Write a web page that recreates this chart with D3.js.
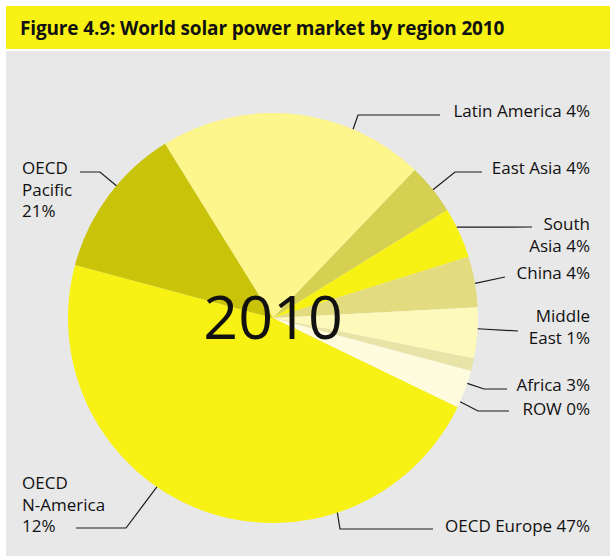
<!DOCTYPE html>
<html>
<head>
<meta charset="utf-8">
<script src="https://cdn.jsdelivr.net/npm/d3@7"></script>
<style>
  html, body { margin: 0; padding: 0; background: #ffffff; }
  svg { display: block; }
</style>
</head>
<body>
<svg id="chart" width="610" height="556"></svg>
<script>
// World solar power market by region, 2010 (share of installations, %)
const regions = ["OECD Pacific", "Latin America", "East Asia", "South Asia", "China",
                 "Middle East", "Africa", "ROW", "OECD Europe", "OECD N-America"];
const shares  = [21, 4, 4, 4, 4, 1, 3, 0, 47, 12];
const sliceColors = ["#fcf68c", "#d5cf52", "#f7f214", "#e2db80", "#fdf9bb",
                     "#e8e3a6", "#fefbdf", "#fefbdf", "#f7f214", "#c9c30a"];
const centerLabel = "2010";
const title = "Figure 4.9: World solar power market by region 2010";

// Label layout: angle (deg, clockwise from 12 o'clock) where the leader touches the rim,
// elbow and end of the leader, text anchor point and line breaks.
const labelLayout = {
  "Latin America":  { a: 23.0,  elbow: [358, 115], end: [440, 115], text: [590, 110], lines: ["Latin America 4%"], anchor: "end" },
  "East Asia":      { a: 51.3,  elbow: [455, 172], end: [482, 172], text: [590, 167], lines: ["East Asia 4%"], anchor: "end" },
  "South Asia":     { a: 63.7,  elbow: null,       end: [532, 227], text: [590, 223], lines: ["South", "Asia 4%"], anchor: "end" },
  "China":          { a: 80.3,  elbow: null,       end: [505, 277], text: [590, 272], lines: ["China 4%"], anchor: "end" },
  "Middle East":    { a: 93.0,  elbow: null,       end: [518, 331], text: [590, 315], lines: ["Middle", "East 1%"], anchor: "end" },
  "Africa":         { a: 108.6, elbow: [484, 389], end: [507, 389], text: [590, 384], lines: ["Africa 3%"], anchor: "end" },
  "ROW":            { a: 114.1, elbow: [478, 411], end: [509, 411], text: [590, 408], lines: ["ROW 0%"], anchor: "end" },
  "OECD Europe":    { a: 161.7, elbow: [340, 529], end: [433, 529], text: [445, 525], lines: ["OECD Europe 47%"], anchor: "start" },
  "OECD N-America": { a: 214.5, elbow: [126, 528], end: [76, 528],  text: [22, 482], lines: ["OECD", "N-America", "12%"], anchor: "start" },
  "OECD Pacific":   { a: 310.2, elbow: [100, 172], end: [80, 172],  text: [22, 167], lines: ["OECD", "Pacific", "21%"], anchor: "start" }
};

const W = 610, H = 556;
const cx = 273, cy = 318, R = 205;
const svg = d3.select("#chart");

// Title band and grey panel
svg.append("rect").attr("x", 6).attr("y", 6).attr("width", W - 6).attr("height", 43).attr("fill", "#f7f214");
svg.append("rect").attr("x", 6).attr("y", 51).attr("width", W - 6).attr("height", H - 51).attr("fill", "#e8e8e8");
svg.append("text")
  .attr("x", 20).attr("y", 35)
  .attr("font-family", "'Open Sans', sans-serif")
  .attr("font-weight", 700)
  .attr("font-size", 19)
  .attr("letter-spacing", -0.15)
  .attr("fill", "#111")
  .text(title);

// Pie
const toRad = d => d * Math.PI / 180;
const start = toRad(-31.8);
const pie = d3.pie().sort(null).value(d => d.v).startAngle(start).endAngle(start + 2 * Math.PI);
const arc = d3.arc().innerRadius(0).outerRadius(R);
const data = regions.map((r, i) => ({ name: r, v: shares[i], color: sliceColors[i] }));

const g = svg.append("g").attr("transform", `translate(${cx},${cy})`);
g.selectAll("path")
  .data(pie(data))
  .join("path")
  .attr("d", arc)
  .attr("fill", d => d.data.color);

// Centre label
g.append("text")
  .attr("x", 0).attr("y", 21)
  .attr("text-anchor", "middle")
  .attr("font-family", "'Open Sans', sans-serif")
  .attr("font-size", 61)
  .attr("fill", "#111")
  .text(centerLabel);

// Leaders and labels
const labels = svg.append("g")
  .attr("font-family", "'Open Sans', sans-serif")
  .attr("font-size", 17)
  .attr("fill", "#111");

regions.forEach(name => {
  const L = labelLayout[name];
  const a = toRad(L.a);
  const p0 = [cx + R * Math.sin(a), cy - R * Math.cos(a)];
  const pts = [p0];
  if (L.elbow) pts.push(L.elbow);
  pts.push(L.end);
  svg.append("path")
    .attr("d", d3.line()(pts))
    .attr("fill", "none")
    .attr("stroke", "#1a1a1a")
    .attr("stroke-width", 1.2);
  const t = labels.append("text")
    .attr("text-anchor", L.anchor)
    .attr("dominant-baseline", "central");
  L.lines.forEach((ln, i) => {
    t.append("tspan").attr("x", L.text[0]).attr("y", L.text[1] + i * 21.5).text(ln);
  });
});
</script>
</body>
</html>
